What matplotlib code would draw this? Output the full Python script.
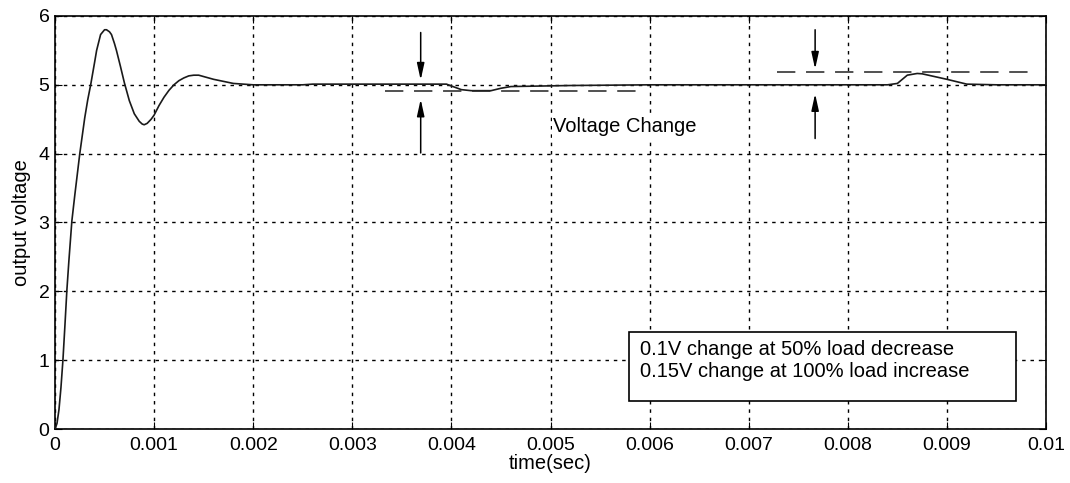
import matplotlib
matplotlib.use('Agg')
import matplotlib.pyplot as plt
from matplotlib.patches import Rectangle

plt.rcParams['font.family'] = ['Liberation Sans', 'DejaVu Sans']

# output voltage
time_s = [0, 0.00002, 0.00004, 0.00006, 0.00008, 0.0001, 0.00012, 0.00014, 0.00017,
          0.0002, 0.00025, 0.0003, 0.00033, 0.00036, 0.0004, 0.00042, 0.00046, 0.0005,
          0.00052, 0.00055, 0.00057, 0.0006, 0.00062, 0.00066, 0.0007, 0.00075, 0.0008,
          0.00085, 0.00088, 0.0009, 0.00093, 0.00097, 0.001, 0.00105,
          0.0011, 0.00115, 0.0012, 0.00125, 0.0013, 0.00135, 0.0014, 0.00145, 0.0015,
          0.0016, 0.0017, 0.0018, 0.0019, 0.002, 0.0025, 0.0026, 0.00395, 0.0041,
          0.0042, 0.0044, 0.0045, 0.0046, 0.0048, 0.0052, 0.006, 0.0084, 0.0085,
          0.00855, 0.0086, 0.0087, 0.00875, 0.009, 0.0092, 0.0095, 0.01]
volts = [0, 0.08, 0.28, 0.6, 1.0, 1.5, 2.02, 2.44, 3.02,
         3.4, 4.0, 4.52, 4.78, 5.0, 5.33, 5.5, 5.73, 5.8,
         5.8, 5.77, 5.73, 5.6, 5.5, 5.27, 5.03, 4.77, 4.58,
         4.47, 4.43, 4.42, 4.44, 4.5, 4.56, 4.7,
         4.82, 4.92, 5.0, 5.06, 5.1, 5.13, 5.14, 5.14, 5.12,
         5.08, 5.05, 5.02, 5.01, 5.0, 5.0, 5.01, 5.01, 4.93,
         4.915, 4.915, 4.95, 4.975, 4.98, 4.99, 5.0, 5.0, 5.02,
         5.08, 5.14, 5.165, 5.16, 5.08, 5.01, 5.0, 5.0]

# dashed reference levels: (x start, x end, level)
ref_low = (0.00333, 0.00586, 4.91)
ref_high = (0.00729, 0.00983, 5.18)

# arrows: x, (tail y, tip y) for down and up arrows
arrows_x = [0.00369, 0.00767]
arrows_down = [(5.76, 5.07), (5.80, 5.23)]
arrows_up = [(4.01, 4.79), (4.22, 4.87)]

xticks = [0, 0.001, 0.002, 0.003, 0.004, 0.005, 0.006, 0.007, 0.008, 0.009, 0.01]
xtick_labels = ['0', '0.001', '0.002', '0.003', '0.004', '0.005', '0.006',
                '0.007', '0.008', '0.009', '0.01']
yticks = [0, 1, 2, 3, 4, 5, 6]

note_lines = ['0.1V change at 50% load decrease', '0.15V change at 100% load increase']

fig = plt.figure(figsize=(10.7, 4.83), dpi=100)
ax = fig.add_axes([0.0514, 0.1118, 0.9262, 0.8551])

ax.plot(time_s, volts, color='#1a1a1a', lw=1.2, zorder=3)

for x0, x1, lev in [ref_low, ref_high]:
    ax.plot([x0, x1], [lev, lev], color='#222222', lw=1.1, dashes=(12, 7), zorder=3)

for x, (d0, d1), (u0, u1) in zip(arrows_x, arrows_down, arrows_up):
    for y0, y1 in [(d0, d1), (u0, u1)]:
        ax.annotate('', xy=(x, y1), xytext=(x, y0),
                    arrowprops=dict(arrowstyle='-|>,head_length=1.0,head_width=0.22',
                                    color='black', lw=1.1, shrinkA=0, shrinkB=0))

ax.text(0.00575, 4.39, 'Voltage Change', fontsize=14.5, ha='center', va='center',
        bbox=dict(facecolor='white', edgecolor='none', pad=1), zorder=4)

ax.add_patch(Rectangle((0.00579, 0.41), 0.00391, 1.0, fill=True, facecolor='white',
                       edgecolor='black', lw=1.2, zorder=4))
ax.text(0.0059, 1.15, note_lines[0], fontsize=14.5, va='center', zorder=5)
ax.text(0.0059, 0.83, note_lines[1], fontsize=14.5, va='center', zorder=5)

ax.set_xlim(0, 0.01)
ax.set_ylim(0, 6)
ax.set_xticks(xticks)
ax.set_xticklabels(xtick_labels)
ax.set_yticks(yticks)
ax.grid(True, color='black', linestyle=(0, (2.5, 3.5)), lw=1.0)
ax.tick_params(direction='in', top=True, right=True, labelsize=14, length=5)
ax.tick_params(axis='x', pad=6)
ax.tick_params(axis='y', pad=4)
for s in ax.spines.values():
    s.set_linewidth(1.2)

ax.set_xlabel('time(sec)', fontsize=14.5, labelpad=0)
ax.set_ylabel('output voltage', fontsize=14.5, labelpad=5)

fig.savefig('out.png', dpi=100)
